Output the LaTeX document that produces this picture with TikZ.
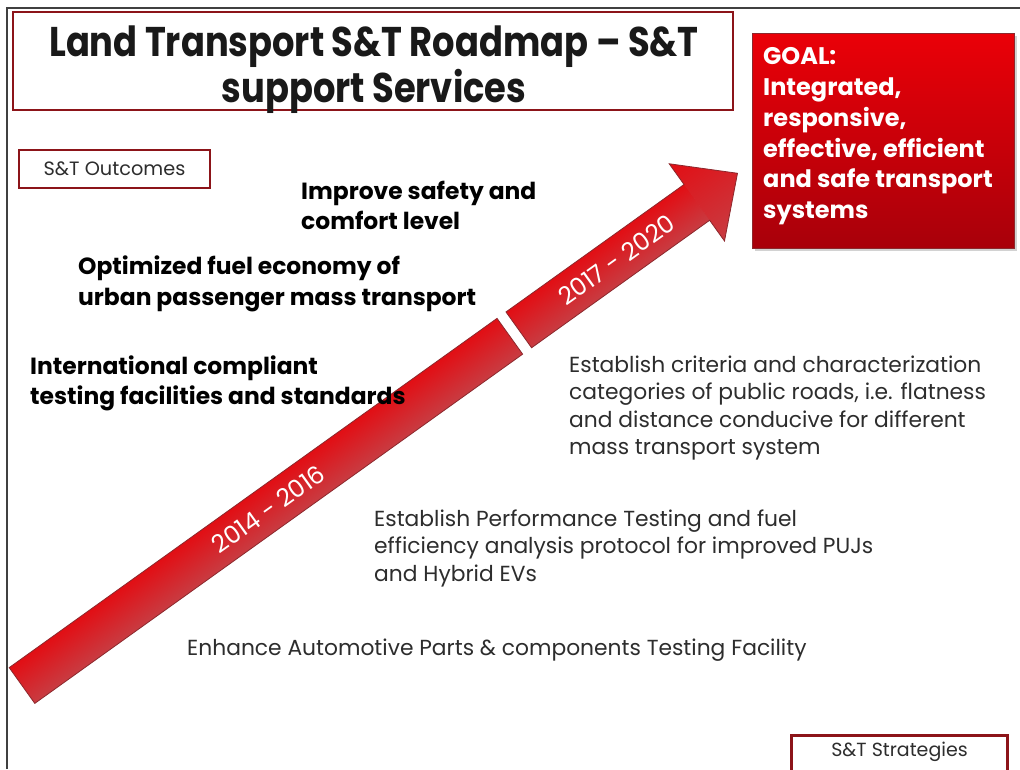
\documentclass[tikz,border=0pt]{standalone}
\usepackage{fontspec}
\setmainfont{Poppins}
\newfontfamily\titlefont{Poppins}[FakeStretch=0.85]
\usetikzlibrary{shadows}
\definecolor{frameRed}{RGB}{140,20,25}
\definecolor{txt}{RGB}{45,45,45}
\definecolor{barTop}{RGB}{226,14,20}
\definecolor{barMid}{RGB}{242,0,0}
\definecolor{barBot}{RGB}{200,60,66}
\definecolor{barEdge}{RGB}{140,40,45}
\definecolor{goalTop}{RGB}{234,0,8}
\definecolor{goalMid}{RGB}{218,0,8}
\definecolor{goalBot}{RGB}{168,0,10}
\tikzset{
  redbox/.style={draw=frameRed, line width=2.5pt, fill=white, inner sep=0pt},
  outcome/.style={font=\bfseries\fontsize{23.4}{30.5}\selectfont, text=black, align=left, inner sep=0pt, anchor=west},
  strategy/.style={font=\fontsize{21.8}{27.5}\selectfont, text=txt, align=left, inner sep=0pt, anchor=west},
  barshade/.style={top color=barTop, middle color=barMid, bottom color=barBot},
  baredge/.style={draw=barEdge, line width=0.8pt},
  period/.style={text=white, font=\fontsize{24.5}{26}\selectfont, inner sep=0pt}
}
\begin{document}
\begin{tikzpicture}[x=1pt,y=-1pt]
\useasboundingbox (0,0) rectangle (1020,769);
\fill[white] (0,0) rectangle (1020,769);
\draw[black!75, line width=1.2pt] (7,769) -- (7,8) -- (1020,8);

% title
\node[redbox, minimum width=720pt, minimum height=98pt] (title) at (373,61) {};
\node[inner sep=0pt, align=center, text=black!90, font=\titlefont\bfseries\fontsize{41.5}{46}\selectfont] (titletext) at (374,70)
      {Land Transport S\&T Roadmap – S\&T\\support Services};

% outcomes / strategies labels
\node[redbox, minimum width=191pt, minimum height=38pt, text=txt,
      font=\fontsize{19.3}{22}\selectfont] (outc) at (114.5,169) {S\&T Outcomes};
\node[redbox, minimum width=216pt, minimum height=44pt, anchor=north] (strat) at (899.5,734) {};
\node[text=txt, font=\fontsize{19}{22}\selectfont, inner sep=0pt] (strattext) at (899.5,752) {S\&T Strategies};

% goal box
\node[anchor=north west, minimum width=262pt, minimum height=215pt, inner sep=0pt,
      top color=goalTop, middle color=goalMid, bottom color=goalBot,
      draw=barEdge, line width=0.8pt,
      drop shadow={shadow xshift=3pt, shadow yshift=-3pt, opacity=0.35}] (goal) at (752,33) {};
\node[anchor=north west, inner sep=0pt, text=white, align=left,
      font=\bfseries\fontsize{24}{30.8}\selectfont] (goaltext) at (763,47.5)
      {GOAL:\\Integrated,\\responsive,\\effective, efficient\\and safe transport\\systems};

% arrow
\begin{scope}[transform canvas={shift={(22,685.5)}, rotate=35.6}]
  \shade[barshade] (0,-22) rectangle (600,22);
  \draw[baredge] (0,-22) rectangle (600,22);
  \shade[barshade] (611,-22) rectangle (830.5,22);
  \shade[barshade] (830,-47.5) -- (880,0) -- (830,47.5) -- cycle;
  \draw[baredge] (611,-22) -- (830,-22) -- (830,-47.5) -- (880,0) -- (830,47.5) -- (830,22) -- (611,22) -- cycle;
  \node[period] (p1) at (303,0) {2014 - 2016};
  \node[period] (p2) at (731,0) {2017 - 2020};
\end{scope}

% outcomes
\node[outcome] (o1) at (301,205.5) {Improve safety and\\comfort level};
\node[outcome] (o2) at (78,284) {Optimized fuel economy of\\urban passenger mass transport};
\node[outcome] (o3) at (30,383.5) {International compliant\\testing facilities and standards};

% strategies
\node[strategy] (s1) at (569,408) {Establish criteria and characterization\\categories of public roads, i.e. flatness\\and distance conducive for different\\mass transport system};
\node[strategy] (s2) at (374,548) {Establish Performance Testing and fuel\\efficiency analysis protocol for improved PUJs\\and Hybrid EVs};
\node[strategy] (s3) at (187,650) {Enhance Automotive Parts \& components Testing Facility};
\end{tikzpicture}
\end{document}
